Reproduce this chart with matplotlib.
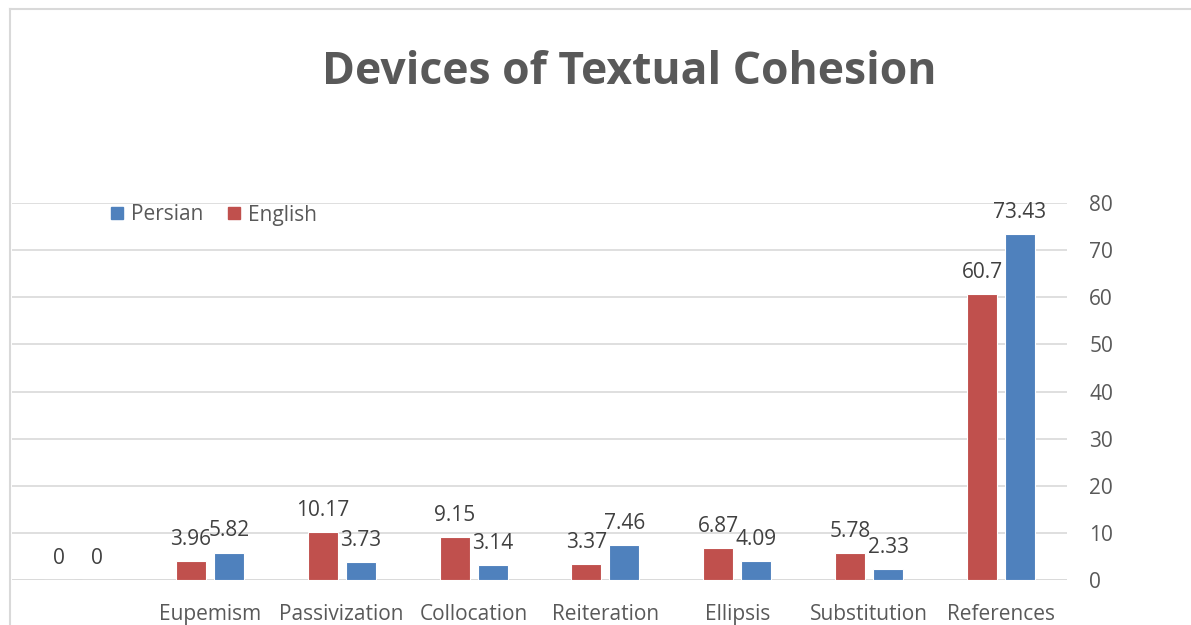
import numpy as np
import matplotlib.pyplot as plt
from matplotlib.lines import Line2D

plt.rcParams['font.family'] = ['Open Sans', 'DejaVu Sans']

categories = ['', 'Eupemism', 'Passivization', 'Collocation', 'Reiteration',
              'Ellipsis', 'Substitution', 'References']
english = [0, 3.96, 10.17, 9.15, 3.37, 6.87, 5.78, 60.7]
persian = [0, 5.82, 3.73, 3.14, 7.46, 4.09, 2.33, 73.43]
english_labels = ['0', '3.96', '10.17', '9.15', '3.37', '6.87', '5.78', '60.7']
persian_labels = ['0', '5.82', '3.73', '3.14', '7.46', '4.09', '2.33', '73.43']
yticks = [0, 10, 20, 30, 40, 50, 60, 70, 80]

red = '#C0504D'
blue = '#4F81BD'
txt = '#595959'
grid = '#D9D9D9'

W, H = 1191, 625
fig = plt.figure(figsize=(W / 100, H / 100), dpi=100)

# axes box in pixel coords
left, right, bottom, top = 12, 1067, 580, 203
ax = fig.add_axes([left / W, 1 - bottom / H, (right - left) / W, (bottom - top) / H])

x = np.arange(len(categories))
bw = 0.228
off = 0.144
ax.bar(x - off, english, bw, color=red, edgecolor='white', linewidth=0.8, zorder=3)
ax.bar(x + off, persian, bw, color=blue, edgecolor='white', linewidth=0.8, zorder=3)

# data labels
for i in range(len(x)):
    ax.annotate(english_labels[i], (x[i] - off, english[i]), xytext=(0, 8),
                textcoords='offset points', ha='center', va='bottom',
                fontsize=15, color='#404040', zorder=4)
    ax.annotate(persian_labels[i], (x[i] + off, persian[i]), xytext=(0, 8),
                textcoords='offset points', ha='center', va='bottom',
                fontsize=15, color='#404040', zorder=4)

ax.set_xlim(-0.5, len(categories) - 0.5)
ax.set_ylim(0, 80)
ax.set_yticks(yticks)
ax.yaxis.tick_right()
ax.tick_params(axis='y', length=0, pad=16, labelsize=15, labelcolor=txt)
ax.set_yticklabels([str(v) for v in yticks], ha='left')
ax.set_xticks(x)
ax.set_xticklabels(categories)
ax.tick_params(axis='x', length=0, pad=17, labelsize=15, labelcolor=txt)
for s in ax.spines.values():
    s.set_visible(False)
ax.grid(axis='y', color=grid, linewidth=1.2, zorder=0)
ax.axhline(0, color=grid, linewidth=1.2, zorder=1)

handles = [Line2D([], [], marker='s', linestyle='', markersize=8.5, color=blue),
           Line2D([], [], marker='s', linestyle='', markersize=8.5, color=red)]
fig.legend(handles, ['Persian', 'English'], loc='center left',
           bbox_to_anchor=(88 / W, 1 - 215 / H), ncol=2, frameon=False,
           fontsize=15, labelcolor=txt, handletextpad=0.15, columnspacing=1.0,
           handlelength=1.0)

fig.text(629 / W, 1 - 72 / H, 'Devices of Textual Cohesion', ha='center', va='center',
         fontsize=32, fontweight='bold', color=txt)

# outer chart border (cropped)
fig.add_artist(Line2D([10 / W, 10 / W], [0, 1 - 9 / H], transform=fig.transFigure,
                      color=grid, linewidth=1.5))
fig.add_artist(Line2D([10 / W, 1], [1 - 9 / H, 1 - 9 / H], transform=fig.transFigure,
                      color=grid, linewidth=1.5))

fig.savefig('out.png', dpi=100)
